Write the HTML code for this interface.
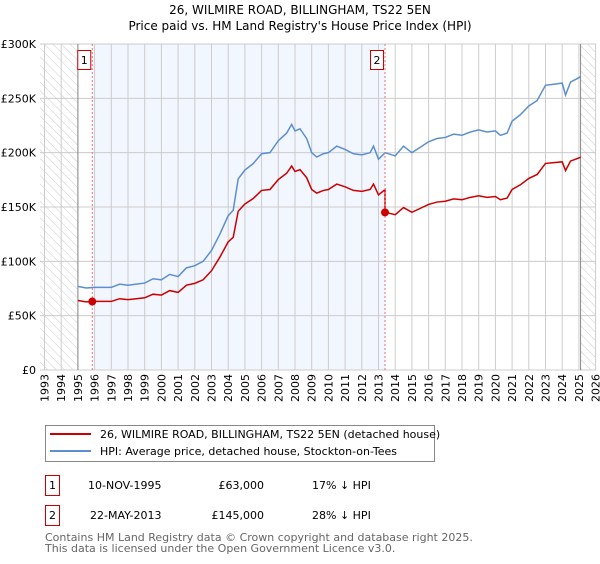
<!DOCTYPE html>
<html><head><meta charset="utf-8"><style>
body{margin:0;background:#fff;font-family:"DejaVu Sans","Liberation Sans",sans-serif;}
svg text{font-family:"DejaVu Sans","Liberation Sans",sans-serif;}
</style></head><body>
<svg id="chart" width="600" height="560" viewBox="0 0 600 560" xmlns="http://www.w3.org/2000/svg">
<defs><pattern id="hatch" width="6" height="6" patternUnits="userSpaceOnUse" patternTransform="rotate(-45)"><line x1="0" y1="0" x2="0" y2="6" stroke="#ccc" stroke-width="1"/></pattern></defs>
<text x="300" y="14" text-anchor="middle" font-size="12">26, WILMIRE ROAD, BILLINGHAM, TS22 5EN</text>
<text x="300" y="30" text-anchor="middle" font-size="12">Price paid vs. HM Land Registry's House Price Index (HPI)</text>
<g id="grid"></g><g id="marks"></g><g id="axes"></g>
<g>
<rect x="45.5" y="425.5" width="389" height="36" fill="#fff" stroke="#888"/>
<line x1="50" y1="434" x2="91" y2="434" stroke="#cc0000" stroke-width="2"/>
<text x="100" y="438" font-size="11">26, WILMIRE ROAD, BILLINGHAM, TS22 5EN (detached house)</text>
<line x1="50" y1="451" x2="91" y2="451" stroke="#5b8fd0" stroke-width="2"/>
<text x="100" y="455" font-size="11">HPI: Average price, detached house, Stockton-on-Tees</text>
</g>
<g font-size="11">
<rect x="45.5" y="475.5" width="14" height="20" fill="#fff" stroke="#cc0000"/><text x="52.5" y="489" text-anchor="middle">1</text>
<text x="88" y="489">10-NOV-1995</text><text x="264" y="489" text-anchor="end">£63,000</text><text x="312" y="489">17% ↓ HPI</text>
<rect x="45.5" y="505.5" width="14" height="20" fill="#fff" stroke="#cc0000"/><text x="52.5" y="519" text-anchor="middle">2</text>
<text x="90" y="519">22-MAY-2013</text><text x="264" y="519" text-anchor="end">£145,000</text><text x="312" y="519">28% ↓ HPI</text>
</g>
<text x="45" y="541" font-size="11" fill="#666">Contains HM Land Registry data © Crown copyright and database right 2025.</text>
<text x="45" y="552" font-size="11" fill="#666">This data is licensed under the Open Government Licence v3.0.</text>
</svg>
<script>
const hpiYears=[1995.0,1995.5,1996,1997,1997.5,1998,1998.5,1999,1999.5,2000,2000.5,2001,2001.5,2002,2002.5,2003,2003.5,2004,2004.3,2004.6,2005,2005.5,2006,2006.5,2007,2007.5,2007.8,2008,2008.3,2008.7,2009,2009.3,2009.7,2010,2010.5,2011,2011.5,2012,2012.5,2012.7,2013,2013.4,2014,2014.5,2015,2015.5,2016,2016.5,2017,2017.5,2018,2018.5,2019,2019.5,2020,2020.3,2020.7,2021,2021.5,2022,2022.5,2023,2023.5,2024,2024.2,2024.5,2025,2025.1];
const hpiValues=[77,75.5,76,76,79,78,79,80,84,83,88,86,94,96,100,110,125,142,147,176,184,190,199,200,211,218,226,220,222,213,200,196,199,200,206,203,199,198,200,206,194,200,197,206,200,205,210,213,214,217,216,219,221,219,220,216,218,229,235,243,248,262,263,264,253,265,269,270];
const saleYears=[1995.86,2013.39];
const salePrices=[63,145];
const saleLabels=["1","2"];
const yTicks=[0,50,100,150,200,250,300];
const yTickLabels=["£0","£50K","£100K","£150K","£200K","£250K","£300K"];
const xTicks=[1993,1994,1995,1996,1997,1998,1999,2000,2001,2002,2003,2004,2005,2006,2007,2008,2009,2010,2011,2012,2013,2014,2015,2016,2017,2018,2019,2020,2021,2022,2023,2024,2025,2026];

const X0=40,X1=596,Y0=44,Y1=370;
const x=y=>44.5+(y-1993)*16.7;
const yv=v=>Y1-(v/300)*(Y1-Y0);
const NS="http://www.w3.org/2000/svg";
function mk(tag,parent,attrs){const e=document.createElementNS(NS,tag);for(const k in attrs)e.setAttribute(k,attrs[k]);parent.appendChild(e);return e;}
const grid=document.getElementById('grid'),marks=document.getElementById('marks'),axes=document.getElementById('axes');
function hpiAt(t){for(let i=1;i<hpiYears.length;i++){if(t<=hpiYears[i]){const f=(t-hpiYears[i-1])/(hpiYears[i]-hpiYears[i-1]);return hpiValues[i-1]+f*(hpiValues[i]-hpiValues[i-1]);}}return hpiValues[hpiValues.length-1];}

let r=mk('rect',grid,{x:x(saleYears[0]),y:Y0,width:x(saleYears[1])-x(saleYears[0]),height:Y1-Y0,fill:'#f2f6fe'});

r=mk('rect',grid,{x:X0,y:Y0,width:x(hpiYears[0])-X0,height:Y1-Y0,fill:'url(#hatch)'});

r=mk('rect',grid,{x:x(hpiYears[hpiYears.length-1]),y:Y0,width:X1-x(hpiYears[hpiYears.length-1]),height:Y1-Y0,fill:'url(#hatch)'});

xTicks.forEach(t=>{const l=mk('line',grid,{x1:x(t),x2:x(t),y1:Y0,y2:Y1,stroke:'#ccc','stroke-width':1});

const tx=mk('text',axes,{transform:`translate(${x(t)+4},${Y1+4}) rotate(-90)`,'text-anchor':'end','font-size':11});tx.textContent=t;
});
yTicks.forEach((t,i)=>{const l=mk('line',grid,{x1:X0,x2:X1,y1:yv(t),y2:yv(t),stroke:'#ccc','stroke-width':1});

const tx=mk('text',axes,{x:36,y:yv(t)+4,'text-anchor':'end','font-size':11});tx.textContent=yTickLabels[i];
});
[x(hpiYears[0]),x(hpiYears[hpiYears.length-1])].forEach(px=>{const l=mk('line',grid,{x1:px,x2:px,y1:Y0,y2:Y1,stroke:'#888'});});

let hp=mk('polyline',marks,{points:hpiYears.map((t,i)=>x(t)+','+yv(hpiValues[i])).join(' '),fill:'none',stroke:'#5b8fd0','stroke-width':1.5});

const all=[];hpiYears.forEach((t,i)=>{let k=0;for(let j=0;j<saleYears.length;j++)if(t>=saleYears[j])k=j;all.push([t,hpiValues[i]*salePrices[k]/hpiAt(saleYears[k])]);});
saleYears.forEach((s,j)=>{if(j>0)all.push([s-0.001,salePrices[j-1]*hpiAt(s)/hpiAt(saleYears[j-1])]);all.push([s,salePrices[j]]);});
all.sort((a,b)=>a[0]-b[0]);
let pl=mk('polyline',marks,{points:all.map(p=>x(p[0])+','+yv(p[1])).join(' '),fill:'none',stroke:'#cc0000','stroke-width':1.5});

saleYears.forEach((s,j)=>{
const l=mk('line',marks,{x1:x(s),x2:x(s),y1:Y0,y2:Y1,stroke:'#f07070','stroke-dasharray':'2,2'});

const c=mk('circle',marks,{cx:x(s),cy:yv(salePrices[j]),r:4,fill:'#cc0000'});

const b=mk('rect',marks,{x:x(s)-14.5,y:50.5,width:13,height:19,fill:'#fff',stroke:'#cc0000'});

const tx=mk('text',marks,{x:x(s)-8,y:64,'text-anchor':'middle','font-size':11});tx.textContent=saleLabels[j];
});
</script>
</body></html>
